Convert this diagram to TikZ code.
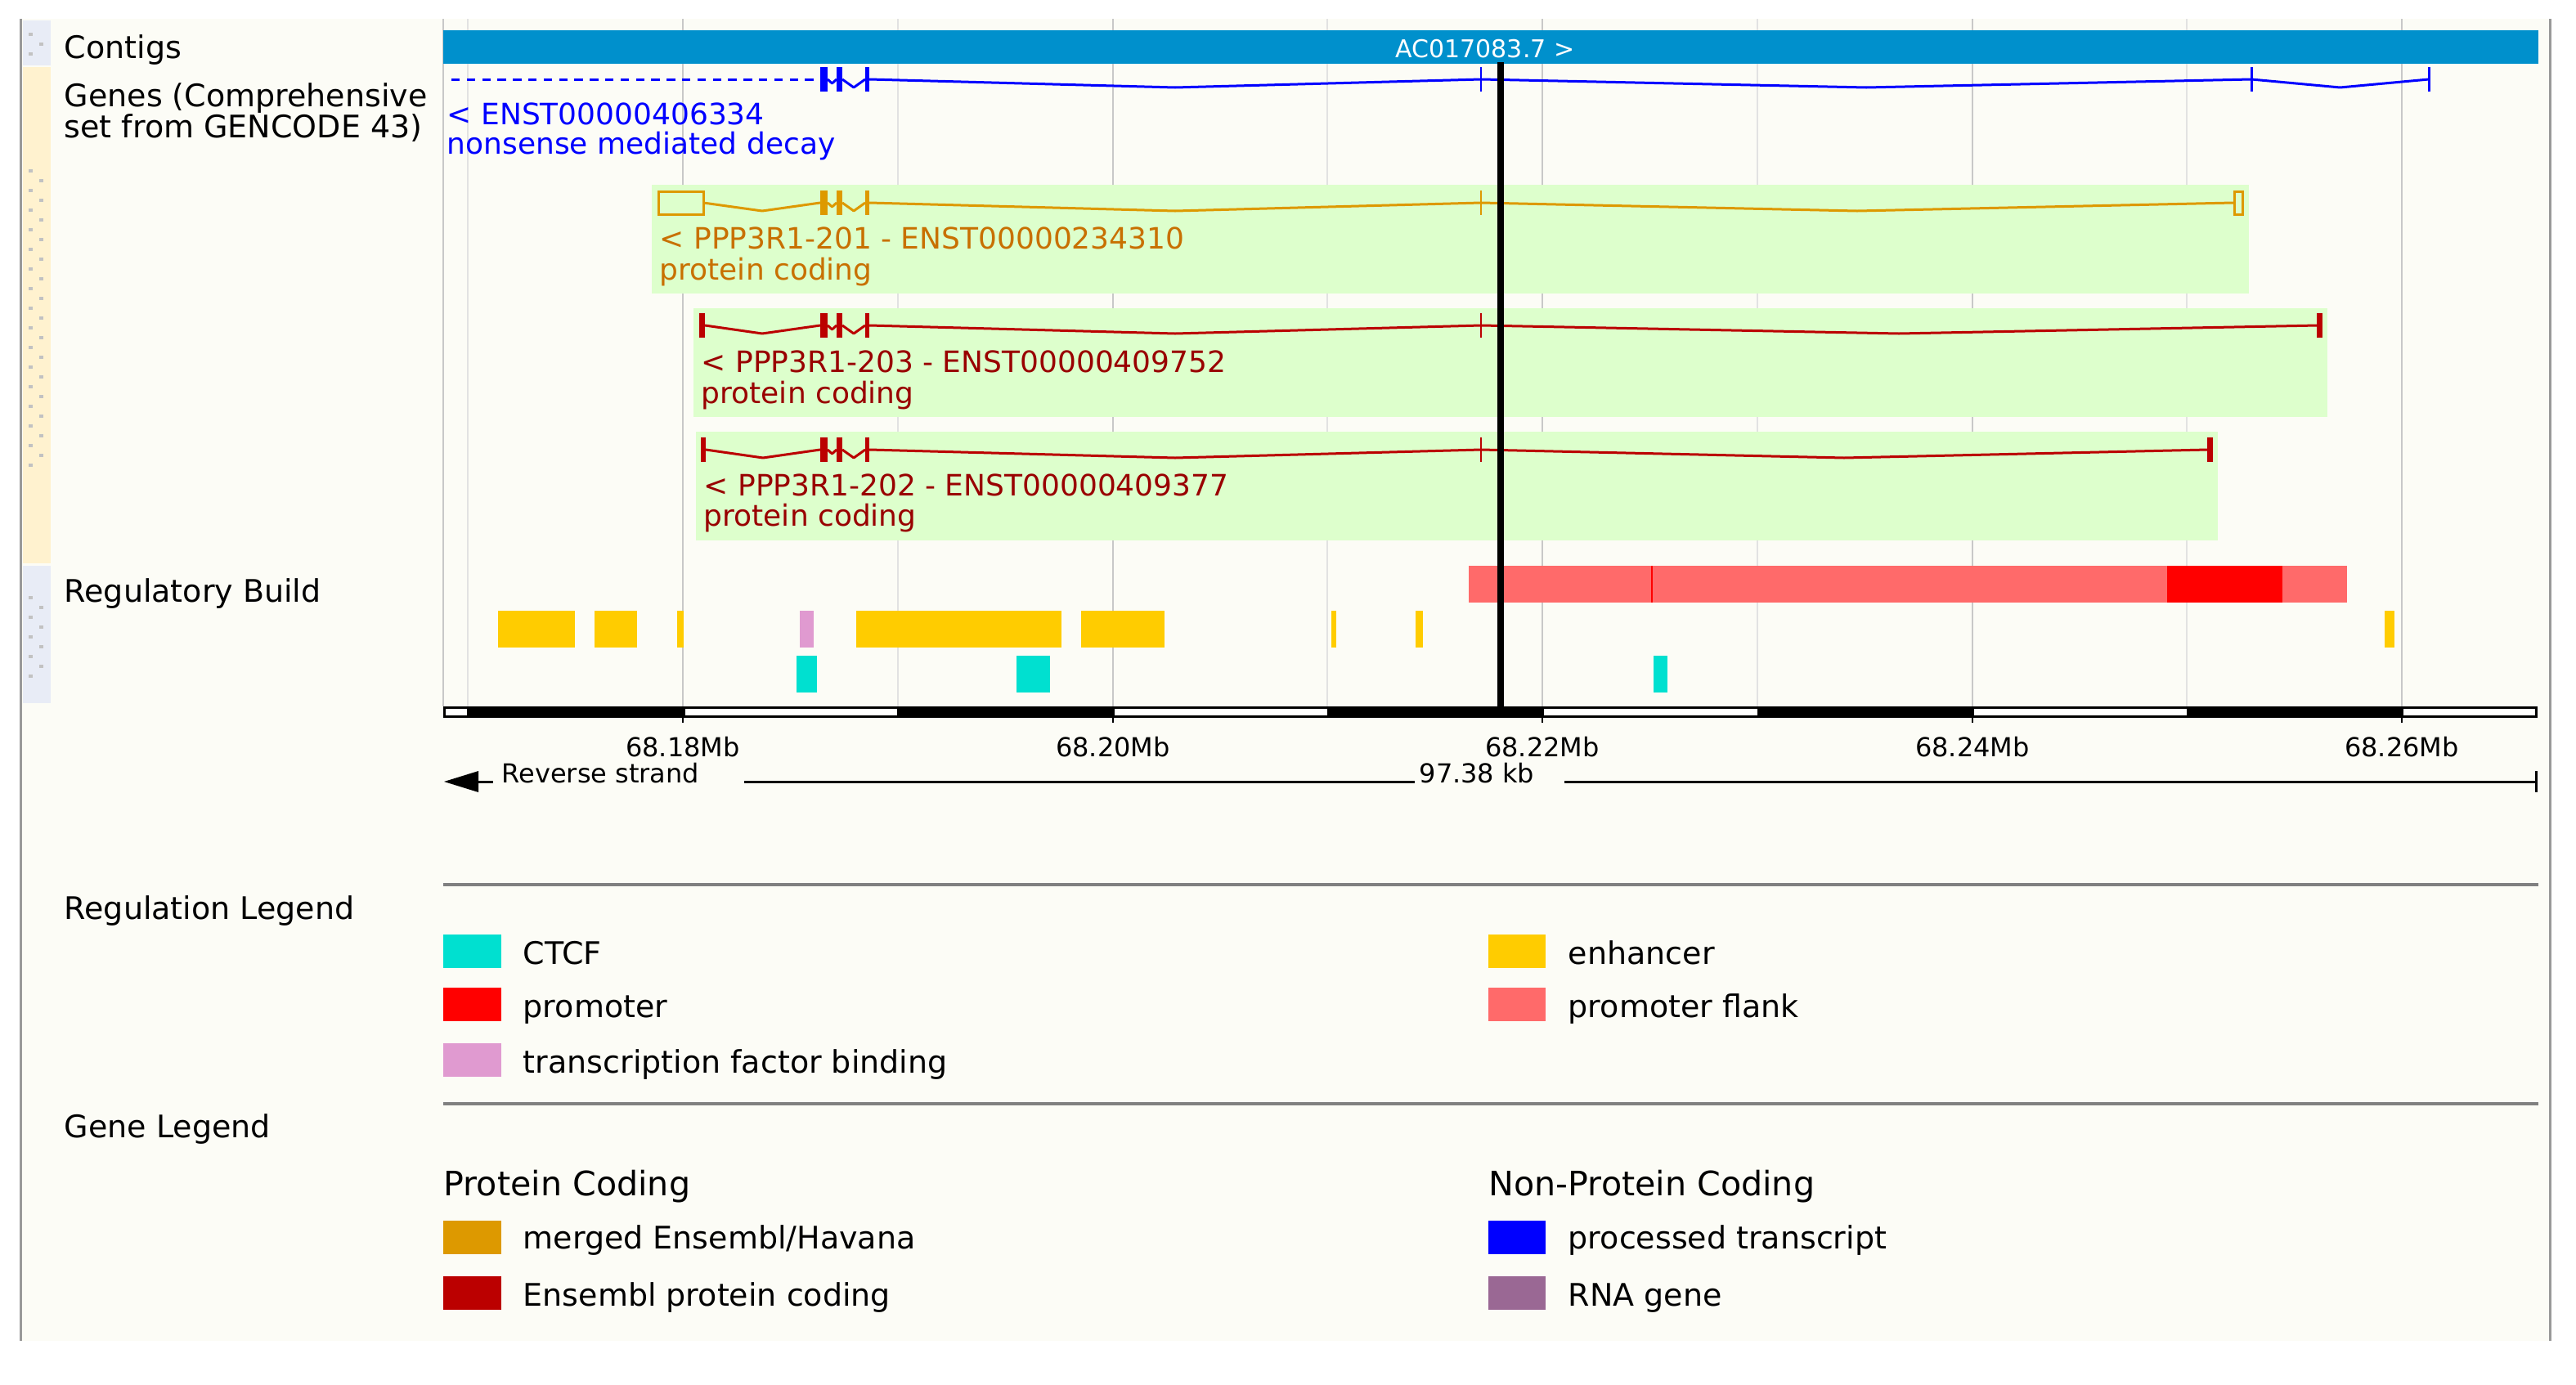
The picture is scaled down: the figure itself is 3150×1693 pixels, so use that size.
\documentclass[tikz,border=0pt]{standalone}
\usepackage{fontspec}
\setmainfont{DejaVu Sans}
\definecolor{panel}{HTML}{FCFCF6}
\definecolor{stripblue}{HTML}{E8ECF6}
\definecolor{stripyel}{HTML}{FFF2CF}
\definecolor{contig}{HTML}{0090CC}
\definecolor{tbox}{HTML}{DDFFCC}
\definecolor{merged}{HTML}{DD9900}
\definecolor{mergedtxt}{HTML}{C87000}
\definecolor{enspc}{HTML}{BB0000}
\definecolor{enspctxt}{HTML}{990000}
\definecolor{proc}{HTML}{0000FF}
\definecolor{rnagene}{HTML}{9A6894}
\definecolor{ctcf}{HTML}{00E0D0}
\definecolor{enh}{HTML}{FFCC00}
\definecolor{prom}{HTML}{FF0000}
\definecolor{flank}{HTML}{FF6A6A}
\definecolor{tfbind}{HTML}{E09AD0}
\definecolor{gridlt}{HTML}{E2E2E2}
\definecolor{griddk}{HTML}{C8C8C8}
\definecolor{frame}{HTML}{999999}
\tikzset{
  lbl/.style={anchor=base west,inner sep=0pt,font=\fontsize{9.5}{11}\selectfont},
  tlbl/.style={anchor=base west,inner sep=0pt,font=\fontsize{9}{10}\selectfont},
  sclbl/.style={anchor=base,inner sep=0pt,font=\fontsize{8}{9}\selectfont},
  hdr/.style={anchor=base west,inner sep=0pt,font=\fontsize{10.3}{12}\selectfont},
  intr/.style={line width=0.75pt,line join=round},
  handle/.style={fill=black!24}
}
\begin{document}
\begin{tikzpicture}[x=0.25pt,y=-0.25pt]
\useasboundingbox (0,0) rectangle (3150,1693);
\fill[white] (0,0) rectangle (3150,1693);
\fill[panel] (24,23) rectangle (3118,1640);
\draw[frame,line width=0.75pt] (25,23) -- (25,1640);
\draw[frame,line width=0.75pt] (3118,23) -- (3118,1640);
\fill[stripblue] (28,25) rectangle (62,80);
\fill[stripyel] (28,82) rectangle (62,689);
\fill[stripblue] (28,692) rectangle (62,860);
\foreach \y in {40,64} \fill[handle] (35,\y) rectangle (40,\y+4);
\fill[handle] (48,52) rectangle (53,56);
\foreach \k in {0,...,15} \fill[handle] (35,207+24*\k) rectangle (40,211+24*\k);
\foreach \k in {0,...,14} \fill[handle] (48,219+24*\k) rectangle (53,223+24*\k);
\foreach \k in {0,...,4} \fill[handle] (35,729+24*\k) rectangle (40,733+24*\k);
\foreach \k in {0,...,3} \fill[handle] (48,741+24*\k) rectangle (53,745+24*\k);

\foreach \x in {572,1098,1623,2149,2674} \draw[gridlt,line width=0.5pt] (\x,23) -- (\x,864);
\foreach \x in {542,835,1361,1886,2412,2937} \draw[griddk,line width=0.5pt] (\x,23) -- (\x,864);

\fill[contig] (542,37) rectangle (3104,78);
\node[anchor=base,inner sep=0pt,text=white,font=\fontsize{7.5}{9}\selectfont] (contiglbl) at (1816,70) {AC017083.7 >};

\node[lbl] (contigs) at (78,71) {Contigs};
\node[lbl] (genes) at (78,130) {Genes (Comprehensive};
\node[lbl] (gencode) at (78,168) {set from GENCODE 43)};
\node[lbl] (regbuild) at (78,736) {Regulatory Build};

\fill[tbox] (797,226) rectangle (2750,359);
\fill[tbox] (848,377) rectangle (2846,510);
\fill[tbox] (851,528) rectangle (2712,661);

\draw[proc,line width=0.75pt,dash pattern=on 2.6pt off 2.1pt] (552,97) -- (996,97);
\foreach \col/\y in {proc/97,merged/248,enspc/398,enspc/550} {
  \fill[fill=\col] (1003,\y-15) rectangle (1012,\y+15);
  \fill[fill=\col] (1023,\y-15) rectangle (1030,\y+15);
  \fill[fill=\col] (1058,\y-15) rectangle (1063,\y+15);
  \draw[color=\col,intr] (1012,\y) -- (1017.5,\y+5) -- (1023,\y);
  \draw[color=\col,intr] (1030,\y) -- (1044,\y+10) -- (1058,\y);
  \draw[color=\col,intr] (1063,\y) -- (1437,\y+10) -- (1811,\y);
  \draw[color=\col,line width=0.6pt] (1811,\y-15) -- (1811,\y+15);
}
\foreach \a/\b in {1811/2753,2753/2970} \draw[proc,intr] (\a,97) -- ({(\a+\b)/2},107) -- (\b,97);
\foreach \x in {2753,2970} \draw[proc,line width=0.75pt] (\x,82) -- (\x,112);
\node[tlbl,text=proc] (nmdid) at (546,152) {< ENST00000406334};
\node[tlbl,text=proc] (nmd) at (546,188) {nonsense mediated decay};

\draw[merged,line width=0.75pt] (805,234) rectangle (860,262);
\draw[merged,intr] (860,248) -- (932,258) -- (1003,248);
\draw[merged,intr] (1811,248) -- (2271,258) -- (2731,248);
\draw[merged,line width=0.75pt] (2732,234) rectangle (2742,262);
\node[tlbl,text=mergedtxt] (t201) at (806,304) {< PPP3R1-201 - ENST00000234310};
\node[tlbl,text=mergedtxt] (t201b) at (806,342) {protein coding};

\fill[enspc] (855,383) rectangle (862,413);
\draw[enspc,intr] (862,398) -- (932,408) -- (1003,398);
\draw[enspc,intr] (1811,398) -- (2322,408) -- (2834,398);
\fill[enspc] (2833,383) rectangle (2840,413);
\node[tlbl,text=enspctxt] (t203) at (857,455) {< PPP3R1-203 - ENST00000409752};
\node[tlbl,text=enspctxt] (t203b) at (857,493) {protein coding};

\fill[enspc] (857,535) rectangle (863,565);
\draw[enspc,intr] (863,550) -- (933,560) -- (1003,550);
\draw[enspc,intr] (1811,550) -- (2255,560) -- (2700,550);
\fill[enspc] (2699,535) rectangle (2706,565);
\node[tlbl,text=enspctxt] (t202) at (860,606) {< PPP3R1-202 - ENST00000409377};
\node[tlbl,text=enspctxt] (t202b) at (860,643) {protein coding};

\fill[flank] (1796,692) rectangle (2870,737);
\fill[prom] (2650,692) rectangle (2791,737);
\draw[prom,line width=0.5pt] (2020,692) -- (2020,737);
\foreach \a/\b in {609/703,727/779,828/836,1047/1298,1322/1424,1628/1634,1731/1740,2916/2928}
  \fill[enh] (\a,747) rectangle (\b,792);
\fill[tfbind] (978,747) rectangle (995,792);
\foreach \a/\b in {974/999,1243/1284,2022/2039}
  \fill[ctcf] (\a,802) rectangle (\b,847);

\fill (1831,76) rectangle (1839,864);

\fill (542,864) rectangle (3103,878);
\foreach \a/\b in {545/571,838/1097,1363/1623,1888/2149,2414/2674,2939/3100}
  \fill[white] (\a,867) rectangle (\b,875);
\foreach \x/\t [count=\i] in {835/68.18,1361/68.20,1886/68.22,2412/68.24,2937/68.26} {
  \draw[line width=0.5pt] (\x,877) -- (\x,884);
  \node[sclbl] (mb\i) at (\x,925) {\t Mb};
}
\fill (543,956) -- (585,943) -- (585,969) -- cycle;
\draw[line width=0.75pt] (585,956) -- (603,956);
\node[sclbl,anchor=base west] (strand) at (613,957) {Reverse strand};
\node[sclbl] (span) at (1806,957) {97.38 kb};
\draw[line width=0.75pt] (910,956) -- (1730,956);
\draw[line width=0.75pt] (1913,956) -- (3101,956);
\draw[line width=0.75pt] (3101,943) -- (3101,969);

\draw[gray,line width=1pt] (542,1082) -- (3104,1082);
\node[lbl] (reglegend) at (78,1124) {Regulation Legend};
\fill[ctcf] (542,1143) rectangle (613,1184);
\node[lbl] (lctcf) at (639,1179) {CTCF};
\fill[enh] (1820,1143) rectangle (1890,1184);
\node[lbl] (lenh) at (1917,1179) {enhancer};
\fill[prom] (542,1208) rectangle (613,1249);
\node[lbl] (lprom) at (639,1244) {promoter};
\fill[flank] (1820,1208) rectangle (1890,1249);
\node[lbl] (lflank) at (1917,1244) {promoter flank};
\fill[tfbind] (542,1276) rectangle (613,1317);
\node[lbl] (ltf) at (639,1312) {transcription factor binding};

\draw[gray,line width=1pt] (542,1350) -- (3104,1350);
\node[lbl] (genelegend) at (78,1391) {Gene Legend};
\node[hdr] (pc) at (542,1462) {Protein Coding};
\node[hdr] (npc) at (1820,1462) {Non-Protein Coding};
\fill[merged] (542,1493) rectangle (613,1534);
\node[lbl] (lmerged) at (639,1527) {merged Ensembl/Havana};
\fill[proc] (1820,1493) rectangle (1890,1534);
\node[lbl] (lproc) at (1917,1527) {processed transcript};
\fill[enspc] (542,1561) rectangle (613,1602);
\node[lbl] (lenspc) at (639,1597) {Ensembl protein coding};
\fill[rnagene] (1820,1561) rectangle (1890,1602);
\node[lbl] (lrna) at (1917,1597) {RNA gene};
\end{tikzpicture}
\end{document}
